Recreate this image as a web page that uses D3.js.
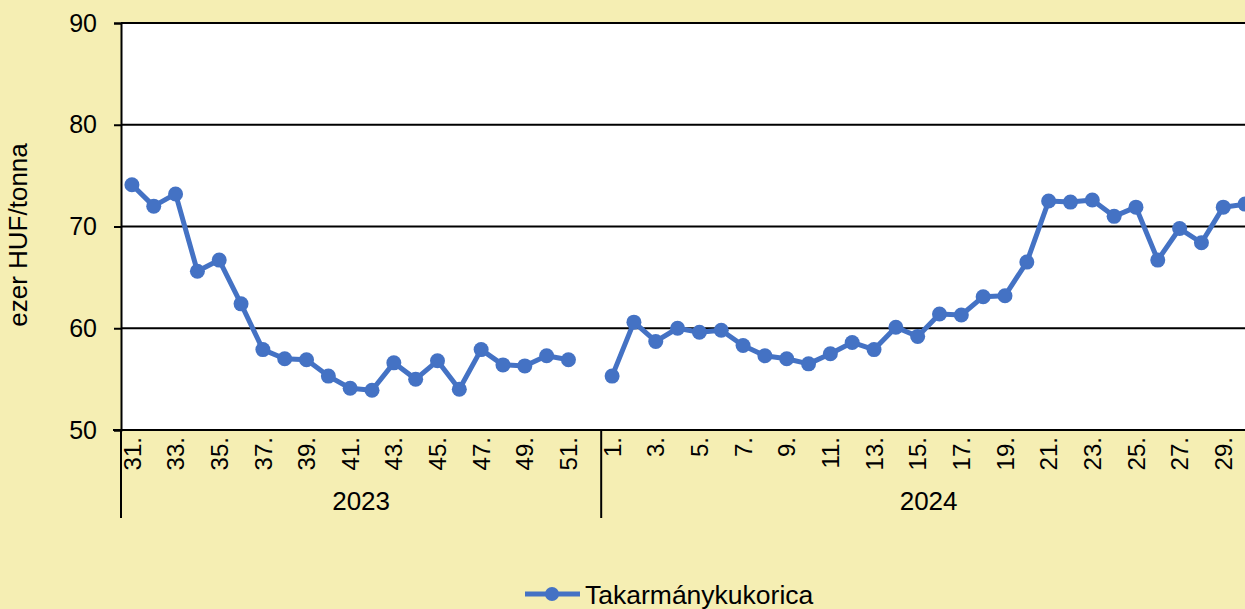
<!DOCTYPE html>
<html>
<head>
<meta charset="utf-8">
<script src="https://cdn.jsdelivr.net/npm/d3@7"></script>
<style>
  html, body { margin: 0; padding: 0; background: #F5EEB3; overflow: hidden; }
  text { font-family: Arial, "Liberation Sans", sans-serif; fill: #000; }
</style>
</head>
<body>
<div id="chart"></div>
<script>
const years = ["2023", "2024"];
const weeks2023 = ["31", "32", "33", "34", "35", "36", "37", "38", "39", "40", "41", "42", "43", "44", "45", "46", "47", "48", "49", "50", "51", "52"];
const weeks2024 = ["1", "2", "3", "4", "5", "6", "7", "8", "9", "10", "11", "12", "13", "14", "15", "16", "17", "18", "19", "20", "21", "22", "23", "24", "25", "26", "27", "28", "29", "30"];
// ezer HUF/tonna, week 52 has no quote
const values2023 = [74.1, 72.0, 73.2, 65.6, 66.7, 62.4, 57.9, 57.0, 56.9, 55.3, 54.1, 53.9, 56.6, 55.0, 56.8, 54.0, 57.9, 56.4, 56.3, 57.3, 56.9, null];
const values2024 = [55.3, 60.6, 58.7, 60.0, 59.6, 59.8, 58.3, 57.3, 57.0, 56.5, 57.5, 58.6, 57.9, 60.1, 59.2, 61.4, 61.3, 63.1, 63.2, 66.5, 72.5, 72.4, 72.6, 71.0, 71.9, 66.7, 69.8, 68.4, 71.9, 72.2];
const yTicks = [50, 60, 70, 80, 90];
const seriesName = "Takarmánykukorica";

const
  width = 1245,
  height = 609,
  margin = { top: 23, bottom: 179, left: 121, right: -11 };

const blue = "#4472C4";

var data = [];
weeks2023.forEach((w, i) => data.push({ key: "2023-" + w, year: "2023", week: w, value: values2023[i] }));
weeks2024.forEach((w, i) => data.push({ key: "2024-" + w, year: "2024", week: w, value: values2024[i] }));

var svg = d3
      .select("#chart")
      .append("svg")
      .attr("width", width)
      .attr("height", height)

svg.append("rect")
      .attr("width", width)
      .attr("height", height)
      .attr("fill", "#F5EEB3")

var x = d3
      .scaleBand()
      .domain(data.map(d => d.key))
      .range([margin.left, width - margin.right]);

var y = d3
      .scaleLinear()
      .domain([50, 90])
      .range([height - margin.bottom, margin.top]);

// plot area
svg.append("rect")
      .attr("x", margin.left)
      .attr("y", y(90))
      .attr("width", width - margin.right - margin.left)
      .attr("height", y(50) - y(90))
      .attr("fill", "#fff")

// gridlines
svg.append("g")
      .selectAll("line")
      .data(yTicks.filter(t => t > 50))
      .enter()
      .append("line")
      .attr("x1", margin.left)
      .attr("x2", width - margin.right)
      .attr("y1", d => y(d))
      .attr("y2", d => y(d))
      .attr("stroke", "#000")
      .attr("stroke-width", 2)

// y axis
var yAxis = svg
      .append("g")
      .attr("transform", `translate(${margin.left},0)`)
      .call(d3.axisLeft(y).tickValues(yTicks).tickSize(7).tickPadding(17))

yAxis.select(".domain").attr("stroke", "#000").attr("stroke-width", 2)
yAxis.selectAll(".tick line").attr("stroke", "#000").attr("stroke-width", 2)
yAxis.selectAll(".tick text")
      .style("font-size", "25px")
      .attr("font-family", "Arial, 'Liberation Sans', sans-serif")
      .attr("fill", "#000")

svg.append("text")
      .attr("transform", `translate(27,235) rotate(-90)`)
      .attr("text-anchor", "middle")
      .style("font-size", "26px")
      .text("ezer HUF/tonna")

// x axis
var baseY = y(50);

svg.append("line")
      .attr("x1", margin.left - 8)
      .attr("x2", width - margin.right)
      .attr("y1", baseY)
      .attr("y2", baseY)
      .attr("stroke", "#000")
      .attr("stroke-width", 2)

svg.append("g")
      .selectAll("text")
      .data(data.filter(d => +d.week % 2 === 1))
      .enter()
      .append("text")
      .attr("transform", d => `translate(${x(d.key) + x.bandwidth() / 2},${baseY + 7}) rotate(-90)`)
      .attr("text-anchor", "end")
      .attr("dy", "0.36em")
      .style("font-size", "24px")
      .text(d => d.week + ".")

var groups = years.map(yr => {
  var keys = data.filter(d => d.year === yr).map(d => d.key);
  return { year: yr, x0: x(keys[0]), x1: x(keys[keys.length - 1]) + x.bandwidth() };
});

svg.append("g")
      .selectAll("line")
      .data(groups)
      .enter()
      .append("line")
      .attr("x1", d => d.x0)
      .attr("x2", d => d.x0)
      .attr("y1", baseY)
      .attr("y2", baseY + 88)
      .attr("stroke", "#000")
      .attr("stroke-width", 2)

svg.append("g")
      .selectAll("text")
      .data(groups)
      .enter()
      .append("text")
      .attr("x", d => (d.x0 + d.x1) / 2)
      .attr("y", baseY + 80)
      .attr("text-anchor", "middle")
      .style("font-size", "26px")
      .text(d => d.year)

// series
var line = d3.line()
      .defined(d => d.value != null)
      .x(d => x(d.key) + x.bandwidth() / 2)
      .y(d => y(d.value));

svg.append("path")
      .datum(data)
      .attr("d", line)
      .attr("fill", "none")
      .attr("stroke", blue)
      .attr("stroke-width", 5)
      .attr("stroke-linejoin", "round")

svg.append("g")
      .selectAll("circle")
      .data(data.filter(d => d.value != null))
      .enter()
      .append("circle")
      .attr("cx", d => x(d.key) + x.bandwidth() / 2)
      .attr("cy", d => y(d.value))
      .attr("r", 7.5)
      .attr("fill", blue)

// legend
var legend = svg.append("g").attr("transform", "translate(525,594)")

legend.append("line")
      .attr("x1", 0)
      .attr("x2", 55)
      .attr("stroke", blue)
      .attr("stroke-width", 5)

legend.append("circle")
      .attr("cx", 27)
      .attr("r", 7)
      .attr("fill", blue)

legend.append("text")
      .attr("x", 60)
      .attr("dy", "0.36em")
      .style("font-size", "26.5px")
      .text(seriesName)
</script>
</body>
</html>
